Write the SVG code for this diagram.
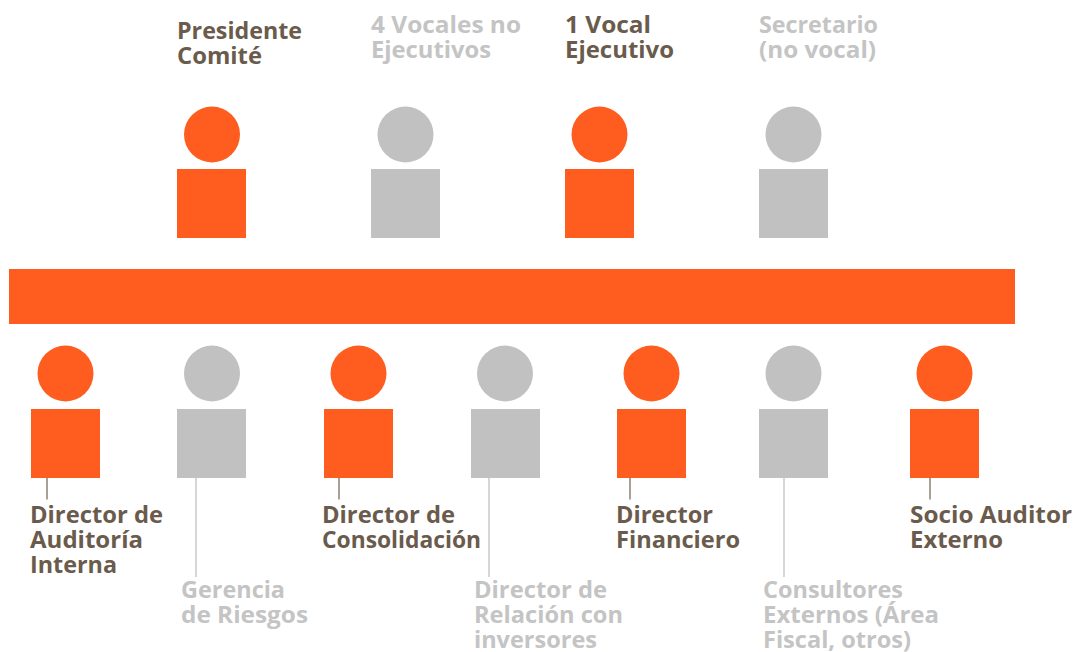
<svg xmlns="http://www.w3.org/2000/svg" width="1074" height="652" viewBox="0 0 1074 652">
<style>
text{font-family:"Open Sans","Noto Sans","Liberation Sans",sans-serif;font-weight:700;font-size:24px}
.o{fill:#ff5d1f}.g{fill:#c1c1c1}
.d{fill:#6a5b4c}.l{fill:#c4c4c4}
.ld{stroke:#8c8072;stroke-width:1.5;fill:none}.lg{stroke:#c8c8c8;stroke-width:1.5;fill:none}
</style>
<rect id="bar" class="o" x="9" y="269" width="1006" height="55"/>
<g id="connectors">
<path class="ld" d="M47 478V499.500"/><path class="lg" d="M196 478V577"/><path class="ld" d="M339 478V499.500"/><path class="lg" d="M489 478V577"/><path class="ld" d="M630 478V499.500"/><path class="lg" d="M784 478V577"/><path class="ld" d="M930 478V499.500"/>
</g>
<g id="n1"><circle class="o" cx="212" cy="134.500" r="28"/><rect class="o" x="177" y="169" width="69" height="69"/><text class="d"><tspan x="177" y="39" textLength="125" lengthAdjust="spacingAndGlyphs">Presidente</tspan><tspan x="177" y="64" textLength="85" lengthAdjust="spacingAndGlyphs">Comité</tspan></text></g>
<g id="n2"><circle class="g" cx="405.500" cy="134.500" r="28"/><rect class="g" x="371" y="169" width="69" height="69"/><text class="l"><tspan x="371" y="33" textLength="150" lengthAdjust="spacingAndGlyphs">4 Vocales no</tspan><tspan x="371" y="58" textLength="120" lengthAdjust="spacingAndGlyphs">Ejecutivos</tspan></text></g>
<g id="n3"><circle class="o" cx="599.500" cy="134.500" r="28"/><rect class="o" x="565" y="169" width="69" height="69"/><text class="d"><tspan x="565" y="33" textLength="86" lengthAdjust="spacingAndGlyphs">1 Vocal</tspan><tspan x="565" y="58" textLength="109" lengthAdjust="spacingAndGlyphs">Ejecutivo</tspan></text></g>
<g id="n4"><circle class="g" cx="793.500" cy="134.500" r="28"/><rect class="g" x="759" y="169" width="69" height="69"/><text class="l"><tspan x="759" y="33" textLength="119" lengthAdjust="spacingAndGlyphs">Secretario</tspan><tspan x="759" y="58" textLength="117" lengthAdjust="spacingAndGlyphs">(no vocal)</tspan></text></g>
<g id="n5"><circle class="o" cx="65.500" cy="373.500" r="28"/><rect class="o" x="31" y="409" width="69" height="69"/><text class="d"><tspan x="30" y="523" textLength="133" lengthAdjust="spacingAndGlyphs">Director de</tspan><tspan x="30" y="548" textLength="113" lengthAdjust="spacingAndGlyphs">Auditoría</tspan><tspan x="30" y="573" textLength="87" lengthAdjust="spacingAndGlyphs">Interna</tspan></text></g>
<g id="n6"><circle class="g" cx="212" cy="373.500" r="28"/><rect class="g" x="177" y="409" width="69" height="69"/><text class="l"><tspan x="181" y="598" textLength="104" lengthAdjust="spacingAndGlyphs">Gerencia</tspan><tspan x="181" y="623" textLength="127" lengthAdjust="spacingAndGlyphs">de Riesgos</tspan></text></g>
<g id="n7"><circle class="o" cx="358.500" cy="373.500" r="28"/><rect class="o" x="324" y="409" width="69" height="69"/><text class="d"><tspan x="322" y="523" textLength="133" lengthAdjust="spacingAndGlyphs">Director de</tspan><tspan x="322" y="548" textLength="159" lengthAdjust="spacingAndGlyphs">Consolidación</tspan></text></g>
<g id="n8"><circle class="g" cx="505" cy="373.500" r="28"/><rect class="g" x="471" y="409" width="69" height="69"/><text class="l"><tspan x="474" y="598" textLength="133" lengthAdjust="spacingAndGlyphs">Director de</tspan><tspan x="474" y="623" textLength="149" lengthAdjust="spacingAndGlyphs">Relación con</tspan><tspan x="474" y="648" textLength="123" lengthAdjust="spacingAndGlyphs">inversores</tspan></text></g>
<g id="n9"><circle class="o" cx="651.500" cy="373.500" r="28"/><rect class="o" x="617" y="409" width="69" height="69"/><text class="d"><tspan x="616" y="523" textLength="97" lengthAdjust="spacingAndGlyphs">Director</tspan><tspan x="616" y="548" textLength="124" lengthAdjust="spacingAndGlyphs">Financiero</tspan></text></g>
<g id="n10"><circle class="g" cx="793.500" cy="373.500" r="28"/><rect class="g" x="759" y="409" width="69" height="69"/><text class="l"><tspan x="763" y="598" textLength="140" lengthAdjust="spacingAndGlyphs">Consultores</tspan><tspan x="763" y="623" textLength="176" lengthAdjust="spacingAndGlyphs">Externos (Área</tspan><tspan x="763" y="648" textLength="148" lengthAdjust="spacingAndGlyphs">Fiscal, otros)</tspan></text></g>
<g id="n11"><circle class="o" cx="944.500" cy="373.500" r="28"/><rect class="o" x="910" y="409" width="69" height="69"/><text class="d"><tspan x="910" y="523" textLength="162" lengthAdjust="spacingAndGlyphs">Socio Auditor</tspan><tspan x="910" y="548" textLength="93" lengthAdjust="spacingAndGlyphs">Externo</tspan></text></g>
</svg>
